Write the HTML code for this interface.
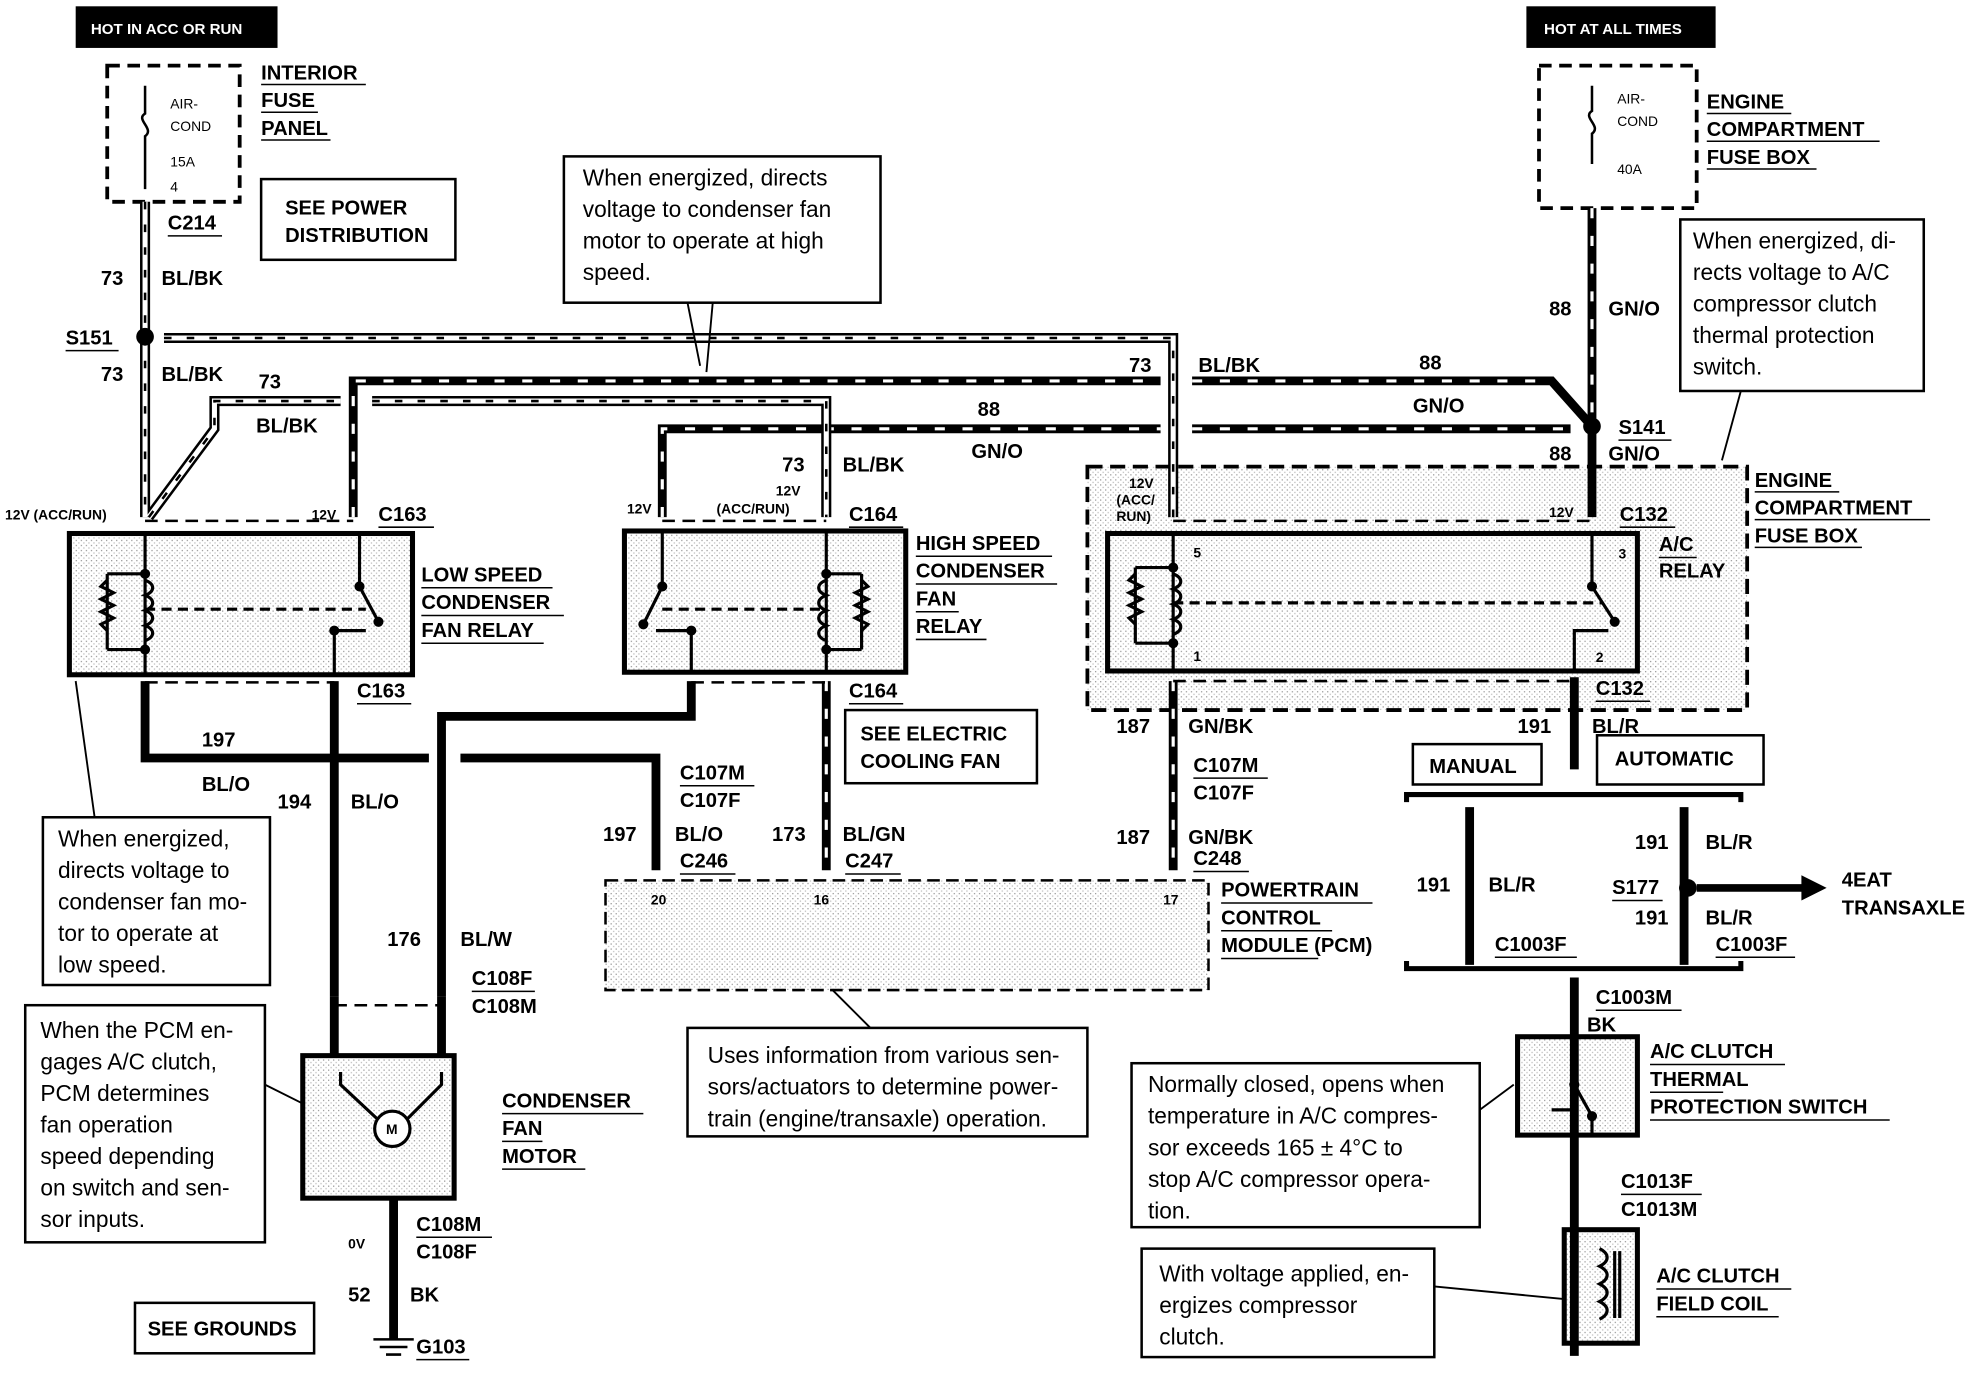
<!DOCTYPE html>
<html><head><meta charset="utf-8"><style>
html,body{margin:0;padding:0;background:#fff;}
svg{display:block;}
text{font-family:"Liberation Sans",sans-serif;}
.b{font-weight:bold;font-size:16px;}
.c{font-size:18px;}
.s{font-size:11px;font-weight:bold;}
</style></head><body>
<svg width="1978" height="1376" viewBox="0 0 1568 1091" preserveAspectRatio="none" xmlns="http://www.w3.org/2000/svg">
<defs>
<pattern id="dots" width="4" height="4" patternUnits="userSpaceOnUse"><rect width="4" height="4" fill="#fff"/><rect width="1" height="1" fill="#999"/><rect x="2" y="2" width="1" height="1" fill="#bbb"/></pattern>
</defs>
<g fill="none" stroke="#000">
<rect x="862" y="370" width="523" height="193" fill="url(#dots)" stroke-width="3" stroke-dasharray="12 6"/>
<rect x="480" y="698" width="478" height="87" fill="url(#dots)" stroke-width="2" stroke-dasharray="10 5"/>
<rect x="55" y="423" width="272" height="112" fill="url(#dots)" stroke-width="4"/>
<rect x="495" y="421" width="223" height="112" fill="url(#dots)" stroke-width="4"/>
<rect x="878" y="423" width="420" height="109" fill="url(#dots)" stroke-width="4"/>
<rect x="240" y="837" width="120" height="113" fill="url(#dots)" stroke-width="4"/>
<rect x="1203" y="822" width="95" height="78" fill="url(#dots)" stroke-width="4"/>
<rect x="1240" y="975" width="58" height="90" fill="url(#dots)" stroke-width="4"/>
<rect x="85" y="52" width="105" height="108" stroke-width="3" stroke-dasharray="10 6"/>
<rect x="1220" y="52" width="125" height="113" stroke-width="3" stroke-dasharray="10 6"/>
</g>
<g fill="none" stroke="#000" stroke-width="7">
<path d="M1262 165 V410"/>
<path d="M265 540 V790"/>
<path d="M350 790 V568 H548 V540"/>
<path d="M115 540 V601 H340"/><path d="M365 601 H520 V690"/>
<path d="M655 540 V690"/>
<path d="M930 540 V690"/>
<path d="M1248 537 V610"/>
<path d="M1165 640 V765"/><path d="M1335 640 V765"/>
<path d="M1248 775 V1075"/>
<path d="M280 410 V302 H920"/><path d="M945 302 H1230 L1262 338"/>
<path d="M525 410 V340 H920"/><path d="M945 340 H1245"/>
<path d="M265 790 V837"/><path d="M350 790 V837"/>
</g>
<line x1="312" y1="950" x2="312" y2="1062" stroke="#000" stroke-width="7"/>
<g fill="none" stroke="#000" stroke-width="2"><path d="M296 1062 H328 M301 1068 H323 M306 1074 H318"/></g>
<g fill="none" stroke="#fff" stroke-width="2.5" stroke-dasharray="8 14">
<path d="M280 410 V302 H920"/><path d="M945 302 H1230"/>
<path d="M525 410 V340 H920"/><path d="M945 340 H1245"/>
<path d="M655 540 V690"/><path d="M930 540 V690"/><path d="M1262 165 V330"/>
</g>
<g fill="none" stroke="#000" stroke-width="8">
<path d="M115 160 V410"/><path d="M130 268 H930 V410"/>
<path d="M118 410 L170 340 V318 H270"/><path d="M295 318 H655 V410"/>
</g>
<g fill="none" stroke="#fff" stroke-width="4">
<path d="M115 160 V410"/><path d="M130 268 H930 V410"/>
<path d="M118 410 L170 340 V318 H270"/><path d="M295 318 H655 V410"/>
</g>
<g fill="none" stroke="#000" stroke-width="2" stroke-dasharray="6 12">
<path d="M115 160 V410"/><path d="M130 268 H930 V410"/>
<path d="M118 410 L170 340 V318 H270"/><path d="M295 318 H655 V410"/>
</g>
<circle cx="115" cy="267" r="7"/><circle cx="1262" cy="338" r="7"/><circle cx="1338" cy="704" r="7"/>
<path d="M1345 704 H1430" stroke="#000" stroke-width="6"/><path d="M1428 694 L1448 704 L1428 714 z"/>
<g fill="none" stroke="#000" stroke-width="4">
<path d="M1115 636 V630 H1380 V636"/><path d="M1115 762 V768 H1380 V762"/>
</g>
<g fill="none" stroke="#000" stroke-width="2" stroke-dasharray="10 6">
<path d="M115 413 H280"/><path d="M115 541 H265"/><path d="M525 413 H655"/><path d="M548 541 H655"/>
<path d="M930 413 H1262"/><path d="M930 540 H1248"/><path d="M265 797 H350"/>
</g>
<!-- fuses -->
<g fill="none" stroke="#000" stroke-width="2">
<path d="M115 68 V90 c-8 5 8 12 0 18 V150"/><path d="M1262 68 V88 c-8 5 8 12 0 18 V130"/>
</g>
<!-- relay internals -->
<g fill="none" stroke="#000" stroke-width="2.5">
<path d="M115 423 V535"/><path d="M85 455 H115 M85 515 H115 M85 455 V515"/>
<path d="M85 460 l-5 5 l10 5 l-10 5 l10 5 l-10 5 l10 5 l-10 5 l5 5"/>
<path d="M115 460 c8 3 8 9 0 12 c8 3 8 9 0 12 c8 3 8 9 0 12 c8 3 8 9 0 12"/>
<path d="M285 423 V465 L300 493"/><path d="M265 535 V500 H290"/><path d="M115 483 H290" stroke-dasharray="8 5"/>
<path d="M655 421 V533"/><path d="M655 455 H683 M655 515 H683 M683 455 V515"/>
<path d="M683 460 l5 5 l-10 5 l10 5 l-10 5 l10 5 l-10 5 l10 5 l-5 5"/>
<path d="M655 460 c-8 3 -8 9 0 12 c-8 3 -8 9 0 12 c-8 3 -8 9 0 12 c-8 3 -8 9 0 12"/>
<path d="M525 421 V465 L510 495"/><path d="M548 533 V500 H520"/><path d="M525 483 H655" stroke-dasharray="8 5"/>
<path d="M930 423 V532"/><path d="M900 450 H930 M900 510 H930 M900 450 V510"/>
<path d="M900 455 l-5 5 l10 5 l-10 5 l10 5 l-10 5 l10 5 l-10 5 l5 5"/>
<path d="M930 455 c8 3 8 9 0 12 c8 3 8 9 0 12 c8 3 8 9 0 12 c8 3 8 9 0 12"/>
<path d="M1262 423 V465 L1280 493"/><path d="M1248 532 V500 H1275"/><path d="M930 478 H1270" stroke-dasharray="8 5"/>
<path d="M270 850 V860 L300 888 M350 850 V860 L322 888"/><circle cx="311" cy="895" r="14" fill="#fff"/>
<path d="M1248 822 V860 L1262 885 M1230 880 H1245" /><path d="M1262 885 V900"/>
<path d="M1268 990 c8 4 8 10 0 14 c8 4 8 10 0 14 c8 4 8 10 0 14 c8 4 8 10 0 14 M1280 992 V1045 M1284 992 V1045"/>
</g>
<g fill="#000"><circle cx="285" cy="465" r="4"/><circle cx="300" cy="493" r="4"/><circle cx="265" cy="500" r="4"/>
<circle cx="525" cy="465" r="4"/><circle cx="510" cy="495" r="4"/><circle cx="548" cy="500" r="4"/><circle cx="655" cy="455" r="4"/><circle cx="655" cy="515" r="4"/>
<circle cx="1262" cy="465" r="4"/><circle cx="1280" cy="493" r="4"/><circle cx="930" cy="450" r="4"/><circle cx="930" cy="510" r="4"/>
<circle cx="115" cy="455" r="4"/><circle cx="115" cy="515" r="4"/><circle cx="1248" cy="860" r="4"/><circle cx="1262" cy="885" r="4"/>
<rect x="60" y="5" width="160" height="33"/><rect x="1210" y="5" width="150" height="33"/></g>
<g fill="#fff" stroke="#000" stroke-width="2">
<rect x="207" y="142" width="154" height="64"/>
<rect x="447" y="124" width="251" height="116"/>
<rect x="1332" y="174" width="193" height="136"/>
<rect x="34" y="648" width="180" height="133"/>
<rect x="20" y="797" width="190" height="188"/>
<rect x="545" y="815" width="317" height="86"/>
<rect x="897" y="843" width="276" height="130"/>
<rect x="905" y="990" width="232" height="86"/>
<rect x="670" y="563" width="152" height="58"/>
<rect x="107" y="1033" width="142" height="40"/>
<rect x="1120" y="590" width="102" height="32"/>
<rect x="1266" y="583" width="132" height="39"/>
</g>
<g fill="none" stroke="#000" stroke-width="1.5">
<path d="M545 240 L555 290 M565 240 L560 295"/><path d="M1380 310 L1365 365"/><path d="M60 540 L75 648"/>
<path d="M210 860 L240 875"/><path d="M660 785 L690 815"/><path d="M1173 880 L1200 860"/><path d="M1137 1020 L1240 1030"/>
</g>
<!-- underlines -->
<g stroke="#000" stroke-width="1.2">
<path d="M207 67 H290 M207 89 H252 M207 111 H262 M133 187 H176 M52 278 H94"/>
<path d="M1353 90 H1420 M1353 112 H1490 M1353 134 H1440 M1283 349 H1325"/>
<path d="M1391 390 H1458 M1391 412 H1530 M1391 434 H1476 M300 418 H344 M673 418 H716 M1284 418 H1328"/>
<path d="M334 466 H438 M334 488 H447 M334 510 H431 M726 441 H834 M726 463 H838 M726 485 H760 M726 507 H782"/>
<path d="M1315 442 H1345 M283 558 H326 M673 558 H716 M1265 556 H1308"/>
<path d="M539 623 H598 M946 617 H1005 M539 693 H583 M670 693 H714 M946 691 H990"/>
<path d="M968 716 H1088 M968 738 H1056 M968 760 H1045 M1278 714 H1318 M1185 759 H1250 M1360 759 H1423"/>
<path d="M374 786 H424 M1265 801 H1333 M1308 844 H1415 M1308 866 H1366 M1308 888 H1498"/>
<path d="M398 883 H510 M398 905 H430 M398 927 H464 M1285 947 H1349 M1313 1022 H1420 M1313 1044 H1410"/>
<path d="M330 981 H390 M330 1078 H372"/>
</g>
<g fill="#fff" font-size="12" font-weight="bold"><text x="72" y="27">HOT IN ACC OR RUN</text><text x="1224" y="27">HOT AT ALL TIMES</text></g>
<g font-size="11"><text x="135" y="86">AIR-</text><text x="135" y="104">COND</text><text x="135" y="132">15A</text><text x="135" y="152">4</text>
<text x="1282" y="82">AIR-</text><text x="1282" y="100">COND</text><text x="1282" y="138">40A</text></g>
<g class="b">
<text x="207" y="63">INTERIOR</text><text x="207" y="85">FUSE</text><text x="207" y="107">PANEL</text>
<text x="226" y="170">SEE POWER</text><text x="226" y="192">DISTRIBUTION</text>
<text x="133" y="182">C214</text>
<text x="80" y="226">73</text><text x="128" y="226">BL/BK</text>
<text x="52" y="273">S151</text>
<text x="80" y="302">73</text><text x="128" y="302">BL/BK</text><text x="205" y="308">73</text><text x="203" y="343">BL/BK</text>
<text x="1353" y="86">ENGINE</text><text x="1353" y="108">COMPARTMENT</text><text x="1353" y="130">FUSE BOX</text>
<text x="1228" y="250">88</text><text x="1275" y="250">GN/O</text>
<text x="895" y="295">73</text><text x="950" y="295">BL/BK</text><text x="1125" y="293">88</text><text x="1120" y="327">GN/O</text>
<text x="775" y="330">88</text><text x="770" y="363">GN/O</text>
<text x="1283" y="344">S141</text><text x="1228" y="365">88</text><text x="1275" y="365">GN/O</text>
<text x="1391" y="386">ENGINE</text><text x="1391" y="408">COMPARTMENT</text><text x="1391" y="430">FUSE BOX</text>
<text x="620" y="374">73</text><text x="668" y="374">BL/BK</text>
<text x="300" y="413">C163</text><text x="673" y="413">C164</text><text x="1284" y="413">C132</text>
<text x="334" y="461">LOW SPEED</text><text x="334" y="483">CONDENSER</text><text x="334" y="505">FAN RELAY</text>
<text x="726" y="436">HIGH SPEED</text><text x="726" y="458">CONDENSER</text><text x="726" y="480">FAN</text><text x="726" y="502">RELAY</text>
<text x="1315" y="437">A/C</text><text x="1315" y="458">RELAY</text>
<text x="283" y="553">C163</text><text x="673" y="553">C164</text><text x="1265" y="551">C132</text>
<text x="885" y="581">187</text><text x="942" y="581">GN/BK</text><text x="1203" y="581">191</text><text x="1262" y="581">BL/R</text>
<text x="682" y="587">SEE ELECTRIC</text><text x="682" y="609">COOLING FAN</text>
<text x="1133" y="613">MANUAL</text><text x="1280" y="607">AUTOMATIC</text>
<text x="160" y="592">197</text><text x="160" y="627">BL/O</text><text x="220" y="641">194</text><text x="278" y="641">BL/O</text>
<text x="539" y="618">C107M</text><text x="539" y="640">C107F</text><text x="946" y="612">C107M</text><text x="946" y="634">C107F</text>
<text x="478" y="667">197</text><text x="535" y="667">BL/O</text><text x="539" y="688">C246</text>
<text x="612" y="667">173</text><text x="668" y="667">BL/GN</text><text x="670" y="688">C247</text>
<text x="885" y="669">187</text><text x="942" y="669">GN/BK</text><text x="946" y="686">C248</text>
<text x="968" y="711">POWERTRAIN</text><text x="968" y="733">CONTROL</text><text x="968" y="755">MODULE (PCM)</text>
<text x="1296" y="673">191</text><text x="1352" y="673">BL/R</text><text x="1123" y="707">191</text><text x="1180" y="707">BL/R</text>
<text x="1278" y="709">S177</text><text x="1296" y="733">191</text><text x="1352" y="733">BL/R</text>
<text x="1460" y="703">4EAT</text><text x="1460" y="725">TRANSAXLE</text>
<text x="1185" y="754">C1003F</text><text x="1360" y="754">C1003F</text>
<text x="307" y="750">176</text><text x="365" y="750">BL/W</text>
<text x="374" y="781">C108F</text><text x="374" y="803">C108M</text>
<text x="1265" y="796">C1003M</text><text x="1258" y="818">BK</text>
<text x="1308" y="839">A/C CLUTCH</text><text x="1308" y="861">THERMAL</text><text x="1308" y="883">PROTECTION SWITCH</text>
<text x="398" y="878">CONDENSER</text><text x="398" y="900">FAN</text><text x="398" y="922">MOTOR</text>
<text x="1285" y="942">C1013F</text><text x="1285" y="964">C1013M</text>
<text x="1313" y="1017">A/C CLUTCH</text><text x="1313" y="1039">FIELD COIL</text>
<text x="330" y="976">C108M</text><text x="330" y="998">C108F</text>
<text x="276" y="1032">52</text><text x="325" y="1032">BK</text><text x="330" y="1073">G103</text>
<text x="117" y="1059">SEE GROUNDS</text>
</g>
<g class="s"><text x="4" y="412">12V (ACC/RUN)</text><text x="247" y="412">12V</text><text x="497" y="407">12V</text><text x="568" y="407">(ACC/RUN)</text><text x="615" y="393">12V</text>
<text x="895" y="387">12V</text><text x="885" y="400">(ACC/</text><text x="885" y="413">RUN)</text><text x="1228" y="410">12V</text>
<text x="946" y="442">5</text><text x="1283" y="443">3</text><text x="946" y="524">1</text><text x="1265" y="525">2</text>
<text x="516" y="717">20</text><text x="645" y="717">16</text><text x="922" y="717">17</text><text x="276" y="990">0V</text><text x="306" y="899">M</text></g>
<g class="c">
<text x="462" y="147">When energized, directs</text><text x="462" y="172">voltage to condenser fan</text><text x="462" y="197">motor to operate at high</text><text x="462" y="222">speed.</text>
<text x="1342" y="197">When energized, di-</text><text x="1342" y="222">rects voltage to A/C</text><text x="1342" y="247">compressor clutch</text><text x="1342" y="272">thermal protection</text><text x="1342" y="297">switch.</text>
<text x="46" y="671">When energized,</text><text x="46" y="696">directs voltage to</text><text x="46" y="721">condenser fan mo-</text><text x="46" y="746">tor to operate at</text><text x="46" y="771">low speed.</text>
<text x="32" y="823">When the PCM en-</text><text x="32" y="848">gages A/C clutch,</text><text x="32" y="873">PCM determines</text><text x="32" y="898">fan operation</text><text x="32" y="923">speed depending</text><text x="32" y="948">on switch and sen-</text><text x="32" y="973">sor inputs.</text>
<text x="561" y="843">Uses information from various sen-</text><text x="561" y="868">sors/actuators to determine power-</text><text x="561" y="893">train (engine/transaxle) operation.</text>
<text x="910" y="866">Normally closed, opens when</text><text x="910" y="891">temperature in A/C compres-</text><text x="910" y="916">sor exceeds 165 ± 4°C to</text><text x="910" y="941">stop A/C compressor opera-</text><text x="910" y="966">tion.</text>
<text x="919" y="1016">With voltage applied, en-</text><text x="919" y="1041">ergizes compressor</text><text x="919" y="1066">clutch.</text>
</g>
</svg>
</body></html>
